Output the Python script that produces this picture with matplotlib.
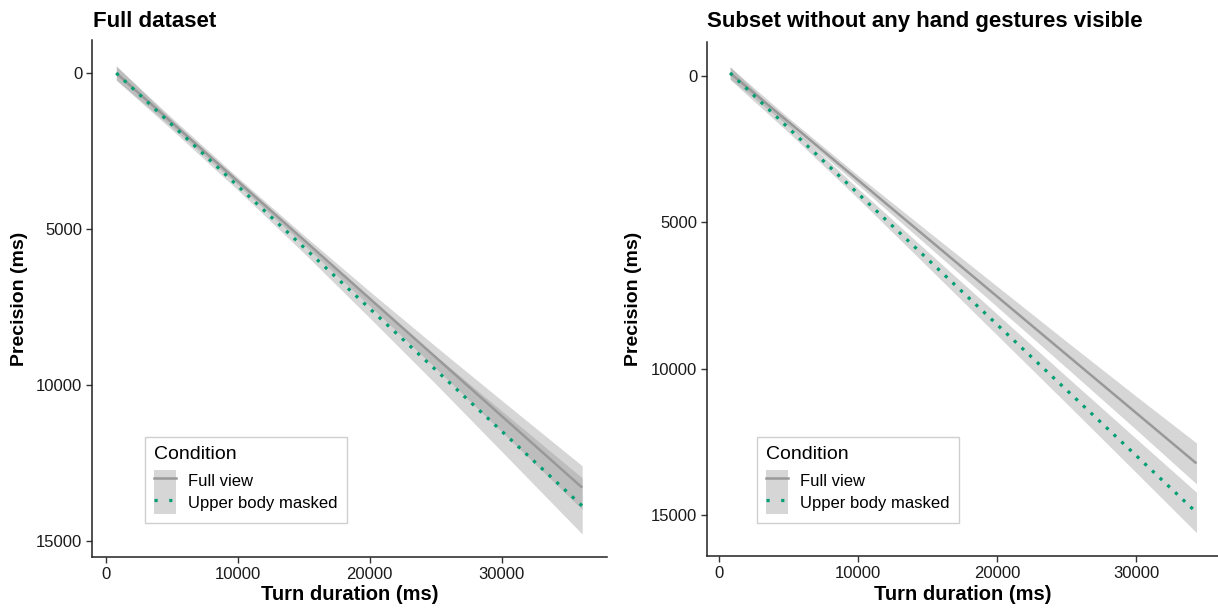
import matplotlib
matplotlib.use("Agg")
import matplotlib.pyplot as plt
import numpy as np
from matplotlib.patches import Patch
from matplotlib.lines import Line2D
from matplotlib.legend_handler import HandlerTuple

plt.rcParams['font.family'] = ['Liberation Sans', 'DejaVu Sans']

# ---- data ----
conditions = ["Full view", "Upper body masked"]

left_x = [800, 5000, 10000, 15000, 20000, 25000, 30000, 36100]
left_full_fit = [0, 1580, 3463, 5345, 7227, 9109, 10991, 13287]
left_full_half = [220, 150, 120, 150, 230, 350, 500, 700]
left_masked_fit = [0, 1650, 3616, 5581, 7546, 9511, 11476, 13873]
left_masked_half = [230, 160, 130, 180, 300, 450, 650, 900]

right_x = [800, 5000, 10000, 15000, 20000, 25000, 30000, 34350]
right_full_fit = [-100, 1570, 3558, 5546, 7534, 9522, 11510, 13240]
right_full_half = [200, 140, 160, 250, 350, 450, 570, 700]
right_masked_fit = [-100, 1780, 4017, 6255, 8492, 10730, 12967, 14915]
right_masked_half = [220, 150, 170, 260, 360, 460, 580, 690]

titles = ["Full dataset", "Subset without any hand gestures visible"]
x_ticks = [0, 10000, 20000, 30000]
y_ticks = [0, 5000, 10000, 15000]
x_label = "Turn duration (ms)"
y_label = "Precision (ms)"

# ---- styling ----
W, H = 1218, 609
fig = plt.figure(figsize=(W / 100, H / 100), dpi=100)

full_col = "#999999"
mask_col = "#009E73"
ribbon_col = "#999999"
ribbon_alpha = 0.4


def px_axes(x0, x1, y0, y1):
    return fig.add_axes([x0 / W, 1 - y1 / H, (x1 - x0) / W, (y1 - y0) / H])


panels = [
    dict(ax=px_axes(92, 607, 40, 557), x=left_x,
         ff=left_full_fit, fh=left_full_half, mf=left_masked_fit, mh=left_masked_half,
         xlim=(-1040, 37980), ylim=(15510, -1060), title=titles[0],
         tx=93, ylx=20, leg=(145, 435, 523)),
    dict(ax=px_axes(707, 1218, 42, 556), x=right_x,
         ff=right_full_fit, fh=right_full_half, mf=right_masked_fit, mh=right_masked_half,
         xlim=(-863, 35900), ylim=(16404, -1160), title=titles[1],
         tx=707, ylx=634, leg=(757, 435, 523)),
]

for p in panels:
    ax = p["ax"]
    x = np.array(p["x"], dtype=float)
    ff, fh = np.array(p["ff"], float), np.array(p["fh"], float)
    mf, mh = np.array(p["mf"], float), np.array(p["mh"], float)
    ax.fill_between(x, ff - fh, ff + fh, color=ribbon_col, alpha=ribbon_alpha, lw=0, zorder=1)
    ax.fill_between(x, mf - mh, mf + mh, color=ribbon_col, alpha=ribbon_alpha, lw=0, zorder=1)
    ax.plot(x, ff, color=full_col, lw=1.8, zorder=3, solid_capstyle='butt')
    ax.plot(x, mf, color=mask_col, lw=2.3, ls=(0, (1, 2.3)), zorder=3)
    ax.set_xlim(*p["xlim"])
    ax.set_ylim(*p["ylim"])
    ax.set_xticks(x_ticks)
    ax.set_yticks(y_ticks)
    ax.set_xticklabels([str(v) for v in x_ticks])
    ax.set_yticklabels([str(v) for v in y_ticks])
    for s in ["top", "right"]:
        ax.spines[s].set_visible(False)
    for s in ["left", "bottom"]:
        ax.spines[s].set_linewidth(1.1)
        ax.spines[s].set_color("#222222")
    ax.tick_params(axis='both', direction='out', length=4, width=1.0, color="#333333",
                   labelsize=12, labelcolor="#1a1a1a", pad=3)
    bb = ax.get_position()
    # title
    fig.text(p["tx"] / W, 1 - 27 / H, p["title"], fontsize=16, fontweight='bold',
             ha='left', va='baseline')
    # axis labels
    fig.text((bb.x0 + bb.x1) / 2, 1 - 595 / H, x_label, fontsize=14.5, fontweight='bold',
             ha='center', va='center')
    fig.text(p["ylx"] / W, (bb.y0 + bb.y1) / 2, y_label, fontsize=14, fontweight='bold',
             ha='center', va='center', rotation=90)
    # legend
    handles = [
        (Patch(facecolor=ribbon_col, alpha=ribbon_alpha, edgecolor='none'),
         Line2D([], [], color=full_col, lw=1.8)),
        (Patch(facecolor=ribbon_col, alpha=ribbon_alpha, edgecolor='none'),
         Line2D([], [], color=mask_col, lw=2.3, ls=(0, (1, 3.6)))),
    ]
    lx, ly_top, ly_bot = p["leg"]
    ax_x0 = bb.x0 * W
    ax_w = bb.width * W
    ax_y_bot = (1 - bb.y0) * H
    ax_h = bb.height * H
    leg = ax.legend(handles, conditions, title="Condition",
                    handler_map={tuple: HandlerTuple(ndivide=1, pad=0)},
                    loc='lower left',
                    bbox_to_anchor=((lx - ax_x0) / ax_w, (ax_y_bot - ly_bot) / ax_h),
                    borderaxespad=0, frameon=True, fancybox=False,
                    edgecolor="#cfcfcf", framealpha=1, fontsize=12,
                    title_fontsize=14, handlelength=1.32, handleheight=1.65,
                    handletextpad=0.72, labelspacing=0.0, borderpad=0.55,
                    alignment='left')
    leg._legend_box.sep = 5
    leg.get_frame().set_linewidth(1.0)

fig.savefig("out.png", dpi=100)
